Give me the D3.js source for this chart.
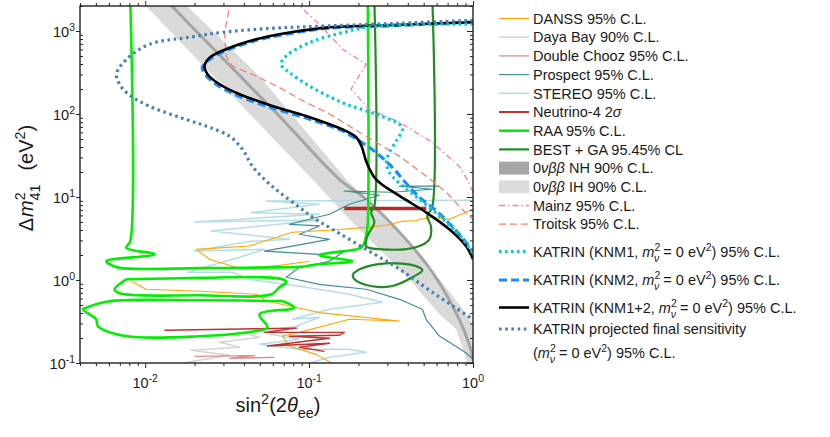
<!DOCTYPE html>
<html>
<head>
<meta charset="utf-8">
<script src="https://cdn.jsdelivr.net/npm/d3@7"></script>
<style>
  body { margin: 0; background: #fff; }
  text { font-family: "Liberation Sans", Arial, Helvetica, sans-serif; fill: #1a1a1a; }
</style>
</head>
<body>
<svg id="chart"></svg>
<script>
// ---- data: [sin^2(2theta), dm2 (eV^2)] ----
let ihRight = [[0.0164,2400],[0.0498,284],[0.169,16.3],[0.296,5.38],[0.624,1.02],[0.824,0.51],[1.0,0.292]]
let ihLeft = [[0.00923,2400],[0.0356,150],[0.105,16.3],[0.176,5.38],[0.409,1.02],[0.624,0.386],[0.79,0.255],[0.909,0.111],[0.93,0.09]]
let nhCenter = [[0.0133,2400],[0.0186,1205],[0.0659,93.8],[0.153,16.3],[0.223,9.38],[0.356,3.76],[0.565,1.24],[0.824,0.336],[0.948,0.168],[1.0,0.111]]

let danssUpper = [[1.0,7.11],[0.906,6.54],[0.717,5.38],[0.542,5.69],[0.45,5.2],[0.371,5.09],[0.3,4.6],[0.223,4.31],[0.133,3.97],[0.079,3.76],[0.0432,2.57],[0.0205,2.34],[0.0247,1.78],[0.0392,1.35],[0.0659,1.5],[0.1005,1.68]]
let danssLower = [[0.00822,0.973],[0.0101,0.773],[0.0214,0.731],[0.0475,0.673],[0.0547,0.558],[0.1156,0.405],[0.356,0.321],[0.176,0.336],[0.0873,0.234],[0.0688,0.211],[0.0758,0.16],[0.11,0.127],[0.137,0.1]]
let dayaBay = [[0.0169,0.1],[0.0327,0.124],[0.0191,0.142],[0.0376,0.155],[0.0284,0.178],[0.0498,0.204],[0.0403,0.228],[0.0873,0.277]]
let doubleChooz = [[0.02,0.12],[0.0465,0.123],[0.0327,0.114],[0.0615,0.117]]
let prospect = [[0.624,13.5],[0.356,13.5],[0.565,12.4],[0.322,11.4],[0.164,11.8],[0.269,10.5],[0.176,8.17],[0.133,6.19],[0.0758,4.69],[0.1156,4.48],[0.0873,3.56],[0.133,3.09],[0.0533,2.23],[0.1156,2.03],[0.164,2.22],[0.133,1.68],[0.0873,1.42],[0.0725,1.08],[0.1156,0.887],[0.223,0.773],[0.356,0.585],[0.491,0.444],[0.517,0.336],[0.624,0.211],[0.906,0.133],[1.0,0.111]]
let stereo = [[1.0,9.12],[0.0549,8.95],[0.1156,8.17],[0.0442,6.49],[0.1156,6.19],[0.02,5.0],[0.1156,5.28],[0.0253,3.89],[0.0758,3.09],[0.0432,2.92],[0.02,2.23],[0.0533,2.34],[0.0376,1.88],[0.0181,1.24],[0.034,1.24],[0.0432,1.02],[0.0873,0.839],[0.176,0.673],[0.28,0.538],[0.133,0.444],[0.079,0.336],[0.1156,0.356],[0.0833,0.279],[0.0573,0.222],[0.0873,0.193],[0.0498,0.168],[0.0873,0.146],[0.176,0.146],[0.223,0.135],[0.133,0.117],[0.1005,0.1]]
let neutrino4High = [[0.164,7.25],[0.519,7.25]]
let neutrino4Low = [[0.0131,0.248],[0.0838,0.263],[0.0533,0.234],[0.164,0.234],[0.153,0.216],[0.0758,0.21],[0.133,0.199],[0.0557,0.16],[0.133,0.173],[0.0873,0.155],[0.124,0.138]]

let raaMain = [[0.0081,2400],[0.0081,2.92],[0.00766,2.45],[0.0114,2.04],[0.00578,1.69],[0.00605,1.55],[0.00697,1.4],[0.0214,1.39],[0.0659,1.42],[0.0873,1.44],[0.1156,1.55],[0.184,1.68],[0.1156,1.99],[0.153,2.2],[0.209,2.48],[0.224,3.6],[0.228,4.95],[0.228,2400]]
let raaIsland1 = [[0.00766,1.02],[0.0214,1.06],[0.0498,1.08],[0.0688,1.02],[0.0726,0.937],[0.0659,0.817],[0.0589,0.673],[0.0214,0.654],[0.00697,0.692],[0.0065,0.773],[0.00766,1.02]]
let raaIsland2 = [[0.0688,0.558],[0.0214,0.569],[0.00605,0.554],[0.00437,0.465],[0.00417,0.444],[0.00502,0.336],[0.00514,0.279],[0.00766,0.211],[0.0214,0.21],[0.0475,0.243],[0.0557,0.269],[0.0498,0.386],[0.0812,0.465],[0.0688,0.558]]
let bestMain = [[0.25,2400],[0.25,7.73],[0.239,6.54],[0.25,4.95],[0.2265,3.36],[0.223,2.55],[0.28,2.34],[0.449,2.48],[0.542,3.09],[0.554,4.44],[0.526,5.85],[0.565,7.73],[0.565,2400]]
let bestIsland = [[0.184,1.17],[0.203,1.35],[0.294,1.59],[0.449,1.47],[0.491,1.31],[0.427,1.08],[0.322,0.847],[0.243,0.84],[0.189,1.02],[0.184,1.17]]

let mainz = [[0.0838,2400],[0.0873,2000],[0.1156,1205],[0.16,603],[0.223,397],[0.18,199],[0.233,114],[0.356,79.4],[0.565,45.6],[0.824,23.4],[0.92,16.3],[1.0,11.4]]
let troitsk = [[0.0333,2400],[0.0305,957],[0.0311,500],[0.034,379],[0.0475,287],[0.0659,208],[0.0959,137],[0.128,105],[0.203,60.2],[0.257,45.6],[0.356,30.9],[0.519,17.8],[0.688,11.4],[0.824,7.73],[0.948,5.85],[1.0,5.38]]

let katrinKnm1 = [[1.0,1205],[0.256,1148],[0.16,957],[0.1005,725],[0.0725,500],[0.0675,397],[0.0758,316],[0.1005,217],[0.16,137],[0.256,99.2],[0.356,75.2],[0.371,65.4],[0.345,49.5],[0.309,34.3],[0.296,25.9],[0.309,19.7],[0.371,13.6],[0.471,9.38],[0.624,5.9],[0.824,3.5],[1.0,2.1]]
let katrinKnm2 = [[1.0,1290],[0.356,1165],[0.127,1075],[0.0758,930],[0.0475,770],[0.0311,580],[0.0247,455],[0.0223,365],[0.0235,290],[0.028,218],[0.037,165],[0.059,119],[0.095,90],[0.133,72],[0.16,62.5],[0.194,50],[0.25,35.6],[0.322,22.8],[0.381,15.5],[0.457,10.5],[0.624,6.3],[0.824,3.56],[1.0,2.22]]
let katrinKnm12 = [[1.0,1274],[0.356,1188],[0.127,1099],[0.0758,957],[0.0475,794],[0.0311,603],[0.0247,478],[0.023,379],[0.024,301],[0.0284,228],[0.0376,173],[0.0597,125],[0.0959,94.5],[0.133,75.2],[0.16,65.4],[0.194,52.4],[0.209,40.8],[0.224,26.2],[0.256,16.3],[0.356,10.3],[0.517,6.54],[0.717,4.08],[0.906,2.57],[1.0,1.78]]
let katrinProjected = [[1.0,1346],[0.356,1238],[0.127,1148],[0.0597,1078],[0.0296,964],[0.0186,840],[0.0106,692],[0.00769,456],[0.00668,301],[0.00717,210],[0.00824,163],[0.0106,124],[0.0162,91.2],[0.0237,71.1],[0.0327,53.9],[0.0392,37.6],[0.0451,23.4],[0.0549,15.5],[0.0659,11.4],[0.0873,7.52],[0.105,5.69],[0.139,4.08],[0.223,2.34],[0.356,1.35],[0.565,0.711],[1.0,0.336]]

// axis ticks
let xMajor = [0.01, 0.1, 1]
let xExp = ['-2', '-1', '0']
let yMajor = [0.1, 1, 10, 100, 1000]
let yExp = ['-1', '0', '1', '2', '3']

// legend labels: [text, flags] i=italic u=sup d=sub b=stack under previous
let legendLabels = [
  [['DANSS 95% C.L.']],
  [['Daya Bay 90% C.L.']],
  [['Double Chooz 95% C.L.']],
  [['Prospect 95% C.L.']],
  [['STEREO 95% C.L.']],
  [['Neutrino-4 2'], ['σ', 'i']],
  [['RAA 95% C.L.']],
  [['BEST + GA 95.45% CL']],
  [['0'], ['νββ', 'i'], [' NH 90% C.L.']],
  [['0'], ['νββ', 'i'], [' IH 90% C.L.']],
  [['Mainz 95% C.L.']],
  [['Troitsk 95% C.L.']],
  [['KATRIN (KNM1, '], ['m', 'i'], ['2', 'u'], ['ν', 'idb'], [' = 0 eV'], ['2', 'u'], [') 95% C.L.']],
  [['KATRIN (KNM2, '], ['m', 'i'], ['2', 'u'], ['ν', 'idb'], [' = 0 eV'], ['2', 'u'], [') 95% C.L.']],
  [['KATRIN (KNM1+2, '], ['m', 'i'], ['2', 'u'], ['ν', 'idb'], [' = 0 eV'], ['2', 'u'], [') 95% C.L.']],
  [['KATRIN projected final sensitivity']]
]

// ---- styles ----
let styles = [
  { c: '#ffa500', w: 1.1 },
  { c: '#d4d4d4', w: 1.5 },
  { c: '#de8a8a', w: 1.3 },
  { c: '#3f8d96', w: 1.2 },
  { c: '#b3dde6', w: 1.5 },
  { c: '#c0302f', w: 2 },
  { c: '#00ee00', w: 2.6 },
  { c: '#228b22', w: 2.2 },
  { box: '#a6a6a6' },
  { box: '#dcdcdc' },
  { c: '#f47cc6', w: 1.3, dash: '6,3,1.5,3' },
  { c: '#fa8072', w: 1.3, dash: '7,4' },
  { c: '#00cdd2', w: 3.2, dash: '2.6,3.4' },
  { c: '#1e8cf5', w: 3.2, dash: '8,4' },
  { c: '#000000', w: 2.6 },
  { c: '#4680b4', w: 3.2, dash: '2.6,3.6' }
]

let width = 830
let height = 437

let x = d3.scaleLog().domain([0.004, 1]).range([80, 473])
let y = d3.scaleLog().domain([0.1, 2000]).range([363, 6])

let svg = d3.select('#chart').attr('width', width).attr('height', height)

svg.append('clipPath').attr('id', 'plotclip')
   .append('rect').attr('x', 80).attr('y', 6).attr('width', 393).attr('height', 357)

let plot = svg.append('g').attr('clip-path', 'url(#plotclip)')

let straight = d3.line().x(d => x(d[0])).y(d => y(d[1]))
let smooth = d3.line().x(d => x(d[0])).y(d => y(d[1])).curve(d3.curveCatmullRom.alpha(0.5))

let drawPath = (data, st, gen) => {
  plot.append('path')
      .attr('d', gen(data))
      .attr('fill', 'none')
      .attr('stroke', st.c)
      .attr('stroke-width', st.w)
      .attr('stroke-dasharray', st.dash || null)
      .attr('stroke-linejoin', 'round')
}

// 0vbb bands
let ihPoly = ihRight.concat([[1.0, 0.09]], ihLeft.slice().reverse())
plot.append('path').attr('d', straight(ihPoly) + 'Z').attr('fill', '#dadada').attr('stroke', 'none')
drawPath(nhCenter, { c: '#a4a4a4', w: 3 }, smooth)

// reactor / short baseline curves
drawPath(stereo, styles[4], straight)
drawPath(dayaBay, styles[1], straight)
drawPath(prospect, styles[3], straight)
drawPath(danssUpper, styles[0], straight)
drawPath(danssLower, styles[0], straight)
drawPath(doubleChooz, styles[2], straight)
drawPath(neutrino4Low, { c: '#c0302f', w: 1.4 }, straight)
drawPath(neutrino4High, { c: '#b52a2a', w: 3.5 }, straight)

drawPath(raaMain, styles[6], smooth)
drawPath(raaIsland1, styles[6], smooth)
drawPath(raaIsland2, styles[6], smooth)
drawPath(bestMain, styles[7], smooth)
drawPath(bestIsland, styles[7], smooth)

drawPath(mainz, styles[10], straight)
drawPath(troitsk, styles[11], straight)

drawPath(katrinKnm2, styles[13], smooth)
drawPath(katrinKnm12, styles[14], smooth)
drawPath(katrinKnm1, styles[12], smooth)
drawPath(katrinProjected, styles[15], smooth)

// ---- axes ----
let xMinor = x.ticks().filter(v => !xMajor.some(m => Math.abs(m - v) < 1e-9))
let yMinor = y.ticks().filter(v => !yMajor.some(m => Math.abs(m - v) / m < 1e-9))

let styleAxis = g => {
  g.select('.domain').remove()
  g.selectAll('line').attr('stroke', '#222').attr('stroke-width', 1)
}

svg.append('g').attr('transform', 'translate(0,363)').call(d3.axisBottom(x).tickValues(xMinor).tickSize(3).tickFormat('')).call(styleAxis)
svg.append('g').attr('transform', 'translate(0,363)').call(d3.axisBottom(x).tickValues(xMajor).tickSize(5).tickFormat('')).call(styleAxis)
svg.append('g').attr('transform', 'translate(0,6)').call(d3.axisTop(x).tickValues(xMinor).tickSize(3).tickFormat('')).call(styleAxis)
svg.append('g').attr('transform', 'translate(0,6)').call(d3.axisTop(x).tickValues(xMajor).tickSize(5).tickFormat('')).call(styleAxis)
svg.append('g').attr('transform', 'translate(80,0)').call(d3.axisRight(y).tickValues(yMinor).tickSize(3).tickFormat('')).call(styleAxis)
svg.append('g').attr('transform', 'translate(80,0)').call(d3.axisLeft(y).tickValues(yMajor).tickSize(4).tickFormat('')).call(styleAxis)
svg.append('g').attr('transform', 'translate(473,0)').call(d3.axisLeft(y).tickValues(yMinor).tickSize(3).tickFormat('')).call(styleAxis)
svg.append('g').attr('transform', 'translate(473,0)').call(d3.axisLeft(y).tickValues(yMajor).tickSize(6).tickFormat('')).call(styleAxis)

svg.append('rect').attr('x', 80).attr('y', 6).attr('width', 393).attr('height', 357)
   .attr('fill', 'none').attr('stroke', '#222').attr('stroke-width', 1.4)

// rich text helper for super/subscripts
let rich = (t, segs, size) => {
  let shift = 0
  segs.forEach(([str, f = '', extra = 0]) => {
    let small = f.includes('u') || f.includes('d')
    let target = f.includes('u') ? -0.42 * size : f.includes('d') ? (f.includes('b') ? 0.34 * size : 0.3 * size) : 0
    let ts = t.append('tspan').text(str)
              .attr('dy', (target - shift).toFixed(2))
              .style('font-size', (small ? 0.72 * size : size) + 'px')
    if (f.includes('i')) ts.style('font-style', 'italic')
    if (f.includes('b')) ts.attr('dx', (-0.42 * size).toFixed(2))
    else if (extra) ts.attr('dx', extra)
    shift = target
  })
}

// tick labels
xMajor.forEach((v, i) => {
  let t = svg.append('text').attr('x', x(v)).attr('y', 388).attr('text-anchor', 'middle')
  rich(t, [['10'], [xExp[i], 'u']], 14.5)
})
yMajor.forEach((v, i) => {
  let t = svg.append('text').attr('x', 75).attr('y', y(v) + 6).attr('text-anchor', 'end')
  rich(t, [['10'], [yExp[i], 'u']], 14.5)
})

// axis titles
let xt = svg.append('text').attr('x', 278).attr('y', 412).attr('text-anchor', 'middle')
rich(xt, [['sin'], ['2', 'u'], ['(2'], ['θ', 'i'], ['ee', 'd'], [')']], 20)

let yt = svg.append('text').attr('transform', 'translate(33,178) rotate(-90)').attr('text-anchor', 'middle')
rich(yt, [['Δ'], ['m', 'i', 1], ['2', 'u'], ['41', 'db'], ['(eV', '', 14], ['2', 'u'], [')']], 20)

// ---- legend ----
let rowY = [18.5, 37.2, 55.9, 74.6, 93.3, 112, 130.7, 149.4, 168.1, 186.8, 205.5, 224.2, 251.5, 280, 307.5, 329]
legendLabels.forEach((lab, i) => {
  let st = styles[i]
  let ry = rowY[i]
  if (st.box) {
    svg.append('rect').attr('x', 499).attr('y', ry - 6.5).attr('width', 30).attr('height', 13).attr('fill', st.box)
  } else {
    svg.append('line').attr('x1', 499).attr('x2', 529).attr('y1', ry).attr('y2', ry)
       .attr('stroke', st.c).attr('stroke-width', Math.min(st.w, 3))
       .attr('stroke-dasharray', st.dash || null)
  }
  let t = svg.append('text').attr('x', 533).attr('y', ry + 5.2)
  rich(t, lab, 14.5)
})
let t2 = svg.append('text').attr('x', 533).attr('y', 358)
rich(t2, [['('], ['m', 'i'], ['2', 'u'], ['ν', 'idb'], [' = 0 eV'], ['2', 'u'], [') 95% C.L.']], 14.5)
</script>
</body>
</html>
